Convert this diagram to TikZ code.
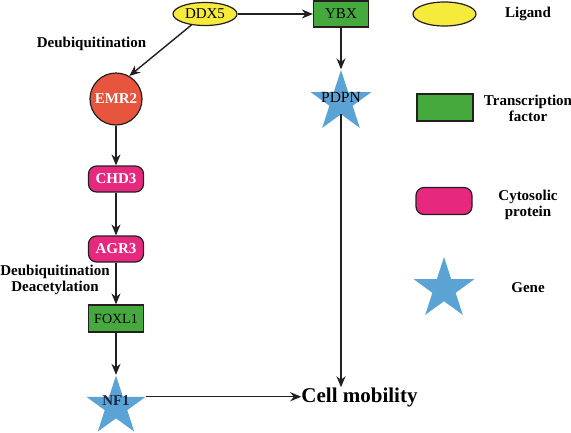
\documentclass[tikz,border=0pt]{standalone}
\usepackage{fontspec}
\setmainfont{Liberation Serif}
\usetikzlibrary{shapes.geometric,arrows.meta}
\definecolor{lig}{HTML}{F6EA3C}
\definecolor{tfc}{HTML}{45A93E}
\definecolor{cyc}{HTML}{E7287F}
\definecolor{recc}{HTML}{E8553F}
\definecolor{genec}{HTML}{5AA3D4}
\definecolor{edge}{HTML}{231F20}
\definecolor{navy}{HTML}{1B2740}
\begin{document}
\begin{tikzpicture}[x=1pt,y=-1pt,
  every node/.style={inner sep=0pt, font=\fontsize{15}{16}\selectfont},
  ligand/.style={ellipse, draw=edge, line width=1.2pt, fill=lig, minimum width=64pt, minimum height=23pt},
  tf/.style={rectangle, draw=edge, line width=1.2pt, fill=tfc, minimum width=55pt, minimum height=26pt},
  cyto/.style={rectangle, rounded corners=8pt, draw=edge, line width=1.2pt, fill=cyc, minimum width=55pt, minimum height=26pt, text=white, font=\fontsize{15}{16}\selectfont\bfseries},
  gene/.style={star, star points=5, star point ratio=2.618, fill=genec, minimum size=64pt},
  receptor/.style={circle, draw=edge, line width=1.2pt, fill=recc, minimum size=52pt, text=white, font=\fontsize{15}{16}\selectfont\bfseries},
  arr/.style={-{Stealth[length=11pt,width=9pt]}, line width=1.4pt, draw=edge},
  lab/.style={font=\fontsize{15}{16}\selectfont\bfseries, align=center}
]
\useasboundingbox (0,0) rectangle (571,432);
% pathway nodes
\node[ligand] (DDX5) at (205,14) {DDX5};
\node[tf] (YBX) at (341,14) {YBX};
\node[receptor] (EMR2) at (116,99) {EMR2};
\node[gene] (PDPN) at (341,102) {};
\node (PDPNt) at (341,97) {\fontsize{15.5}{16}\selectfont PDPN};
\node[cyto] (CHD3) at (116,179) {CHD3};
\node[cyto] (AGR3) at (116,249) {AGR3};
\node[tf, minimum height=27pt] (FOXL1) at (116,318.5) {\fontsize{14}{16}\selectfont FOXL1};
\node[gene, minimum size=62pt] (NF1) at (116,406.5) {};
\node[text=navy] (NF1t) at (116,401) {\bfseries NF1};
\node (cm) at (359.5,397) {\fontsize{21}{22}\selectfont\bfseries Cell mobility};
% labels
\node[lab] (deub1) at (91.5,44) {Deubiquitination};
\node[lab] (deub2) at (55,279.5) {Deubiquitination\\Deacetylation};
% legend
\node[ligand, minimum width=63pt, minimum height=24pt] (Lg) at (444.5,14) {};
\node[tf, minimum width=56pt, minimum height=27pt] (Lt) at (445,107.5) {};
\node[cyto, minimum width=56pt, minimum height=27pt] (Lc) at (444,201) {};
\node[gene] (Ls) at (444,289) {};
\node[lab] (tLg) at (528,14) {Ligand};
\node[lab] (tLt) at (528,108.5) {Transcription\\factor};
\node[lab] (tLc) at (528,204.5) {Cytosolic\\protein};
\node[lab] (tLs) at (528,288) {Gene};
% connectors
\draw[arr] (DDX5.east) -- (YBX.west);
\draw[arr] (DDX5.-141) -- (EMR2.60);
\draw[arr] (YBX.south) -- (PDPN.north);
\draw[arr] (EMR2.south) -- (CHD3.north);
\draw[arr] (CHD3.south) -- (AGR3.north);
\draw[arr] (AGR3.south) -- (FOXL1.north);
\draw[arr] (FOXL1.south) -- (NF1.north);
\draw[arr] (NF1.18) -- (NF1.18 -| cm.west);
\draw[arr] (PDPN.south) -- (PDPN.south |- cm.north);
\end{tikzpicture}
\end{document}
